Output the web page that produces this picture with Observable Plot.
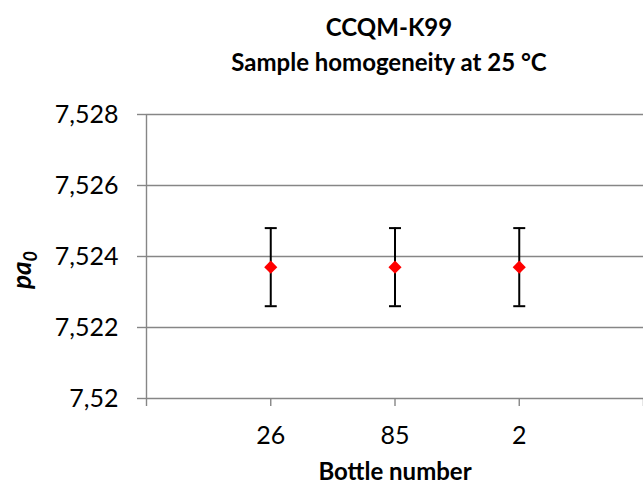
<!DOCTYPE html>
<html><head><meta charset="utf-8">
<script src="https://cdn.jsdelivr.net/npm/d3@7"></script>
<script src="https://cdn.jsdelivr.net/npm/@observablehq/plot@0.6"></script>
<style>
html,body{margin:0;padding:0;background:#fff;}
#chart svg{display:block;font-family:Lato,"Open Sans",sans-serif;}
</style></head>
<body><div id="chart"></div>
<script>
const categories = ["26", "85", "2"];
const positions = [1, 2, 3];
const values = [7.5237, 7.5237, 7.5237];
const errors = [0.0011, 0.0011, 0.0011];
const yTicks = [7.52, 7.522, 7.524, 7.526, 7.528];
const xTicks = [0, 1, 2, 3, 4];
const titleLines = ["CCQM-K99", "Sample homogeneity at 25 °C"];
const xLabel = "Bottle number";

const data = categories.map((c, i) => ({cat: c, x: positions[i], v: values[i], lo: values[i] - errors[i], hi: values[i] + errors[i]}));
const cap = {draw(ctx, size) { const w = 6; ctx.moveTo(-w, 0); ctx.lineTo(w, 0); }};
const fmtY = d => d3.format("~g")(d).replace(".", ",");
const grey = "#868686";

const chart = Plot.plot({
  width: 643, height: 483,
  marginLeft: 146, marginRight: 0, marginTop: 114, marginBottom: 85,
  style: {fontFamily: "Lato, 'Open Sans', sans-serif", background: "#fff"},
  x: {domain: [0, 4]},
  y: {domain: [7.52, 7.528]},
  marks: [
    Plot.gridY(yTicks, {stroke: grey, strokeOpacity: 1, strokeWidth: 1.4}),
    Plot.axisY(yTicks, {tickSize: 9, tickPadding: 19, tickFormat: fmtY, fontSize: 25, stroke: grey, strokeWidth: 1.4, label: null, fill: "#000"}),
    Plot.ruleX([0], {stroke: grey, strokeWidth: 1.4}),
    Plot.axisX(xTicks, {tickSize: 8, tickPadding: 20, fontSize: 25, stroke: grey, strokeWidth: 1.4, label: null, fill: "#000",
      tickFormat: d => { const i = positions.indexOf(d); return i >= 0 ? categories[i] : ""; }}),
    Plot.ruleX(data, {x: "x", y1: "lo", y2: "hi", stroke: "#000", strokeWidth: 2}),
    Plot.dot(data, {x: "x", y: "hi", symbol: cap, r: 3, stroke: "#000", strokeWidth: 2}),
    Plot.dot(data, {x: "x", y: "lo", symbol: cap, r: 3, stroke: "#000", strokeWidth: 2}),
    Plot.dot(data, {x: "x", y: "v", symbol: "diamond2", r: 5.9, fill: "#ff0000", stroke: null}),
    Plot.text([titleLines[0]], {frameAnchor: "top", dx: -6, dy: -96, fontSize: 24, fontWeight: "bold", fill: "#000"}),
    Plot.text([titleLines[1]], {frameAnchor: "top", dx: -6, dy: -61, fontSize: 24, fontWeight: "bold", fill: "#000"}),
    Plot.text([xLabel], {frameAnchor: "bottom", dy: 81, fontSize: 24, fontWeight: "bold", fill: "#000"})
  ]
});
document.getElementById("chart").appendChild(chart);

// y-axis label with subscript
const svg = d3.select(chart);
const yl = svg.append("text")
  .attr("transform", "translate(31,270) rotate(-90)")
  .attr("text-anchor", "middle")
  .attr("font-size", 26).attr("font-weight", "bold").attr("font-style", "italic")
  .attr("font-family", "Lato, 'Open Sans', sans-serif")
  .attr("fill", "#000");
yl.append("tspan").text("pa");
yl.append("tspan").attr("dy", 6).attr("font-size", 18).text("0");
</script></body></html>
